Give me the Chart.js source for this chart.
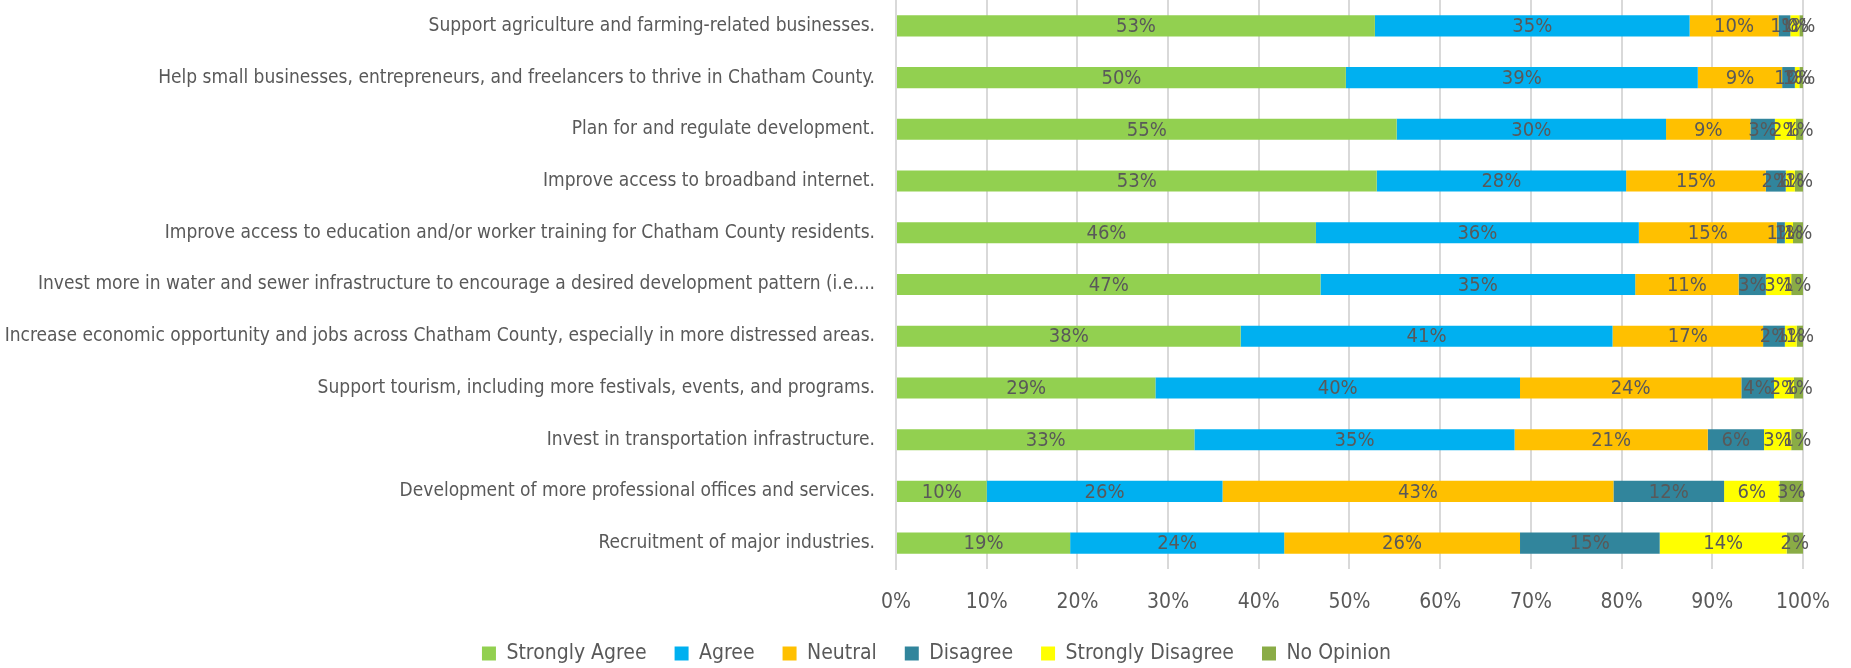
<!DOCTYPE html>
<html>
<head>
<meta charset="utf-8">
<script src="https://cdn.jsdelivr.net/npm/chart.js@4.4.1/dist/chart.umd.min.js"></script>
<style>
  html, body { margin: 0; padding: 0; background: #fff; }
  #wrap { width: 1851px; height: 668px; position: relative; }
</style>
</head>
<body>
<div id="wrap"><canvas id="myChart"></canvas></div>
<script>
/* globals Chart:false */

const priorities = [
    "Support agriculture and farming-related businesses.",
    "Help small businesses, entrepreneurs, and freelancers to thrive in Chatham County.",
    "Plan for and regulate development.",
    "Improve access to broadband internet.",
    "Improve access to education and/or worker training for Chatham County residents.",
    "Invest more in water and sewer infrastructure to encourage a desired development pattern (i.e....",
    "Increase economic opportunity and jobs across Chatham County, especially in more distressed areas.",
    "Support tourism, including more festivals, events, and programs.",
    "Invest in transportation infrastructure.",
    "Development of more professional offices and services.",
    "Recruitment of major industries."
];

// share of responses per answer, in percent
const stronglyAgree    = [52.8, 49.6, 55.2, 53.0, 46.3, 46.8, 38.0, 28.6, 32.9, 10.0, 19.2];
const agree            = [34.7, 38.8, 29.7, 27.5, 35.6, 34.7, 41.0, 40.2, 35.3, 26.0, 23.6];
const neutral          = [ 9.8,  9.3,  9.3, 15.4, 15.2, 11.4, 16.6, 24.4, 21.3, 43.1, 26.0];
const disagree         = [ 1.3,  1.4,  2.7,  2.2,  0.9,  3.0,  2.4,  3.6,  6.2, 12.2, 15.4];
const stronglyDisagree = [ 1.0,  0.5,  2.3,  1.0,  0.9,  2.8,  1.3,  2.2,  3.0,  6.1, 14.0];
const noOpinion        = [ 0.4,  0.4,  0.8,  0.9,  1.1,  1.3,  0.7,  1.0,  1.3,  2.6,  1.8];

const textColor = '#595959';
const fontFamily = "'Liberation Sans Narrow', 'Arial Narrow', 'DejaVu Sans Condensed', sans-serif";

// writes the rounded value in the middle of every segment
const segmentLabels = {
    id: 'segmentLabels',
    afterDatasetsDraw(chart) {
        const ctx = chart.ctx;
        ctx.save();
        ctx.font = '20px ' + fontFamily;
        ctx.fillStyle = textColor;
        ctx.textAlign = 'center';
        ctx.textBaseline = 'middle';
        chart.data.datasets.forEach((ds, i) => {
            chart.getDatasetMeta(i).data.forEach((bar, j) => {
                const p = bar.getProps(['x', 'y', 'base'], true);
                ctx.fillText(Math.round(ds.data[j]) + '%', (p.x + p.base) / 2, p.y + 1);
            });
        });
        ctx.restore();
    }
};

// nudge the legend row a bit to the right, under the bars
const legendShift = {
    id: 'legendShift',
    afterLayout(chart) {
        chart.legend.left += 25;
        chart.legend.right += 25;
    }
};

const ctx = document.getElementById('myChart');
const myChart = new Chart(ctx, {
    type: 'bar',
    data: {
        labels: priorities,
        datasets: [
            { label: 'Strongly Agree', data: stronglyAgree, backgroundColor: '#92d050' },
            { label: 'Agree', data: agree, backgroundColor: '#00b0f0' },
            { label: 'Neutral', data: neutral, backgroundColor: '#ffc000' },
            { label: 'Disagree', data: disagree, backgroundColor: '#31859c' },
            { label: 'Strongly Disagree', data: stronglyDisagree, backgroundColor: '#ffff00' },
            { label: 'No Opinion', data: noOpinion, backgroundColor: '#8aac46' }
        ]
    },
    options: {
        indexAxis: 'y',
        responsive: true,
        maintainAspectRatio: false,
        animation: false,
        categoryPercentage: 0.8,
        barPercentage: 0.51,
        layout: {
            padding: { left: 0, right: 28, top: 0, bottom: 0 }
        },
        scales: {
            x: {
                stacked: true,
                min: 0,
                max: 100,
                ticks: {
                    stepSize: 10,
                    padding: 21,
                    maxRotation: 0,
                    color: textColor,
                    font: { family: fontFamily, size: 21 },
                    callback: v => v + '%'
                },
                grid: { color: '#d9d9d9', lineWidth: 2, drawTicks: false },
                border: { display: false },
                afterFit: scale => { scale.height = 46; }
            },
            y: {
                stacked: true,
                ticks: {
                    padding: 21,
                    color: textColor,
                    font: { family: fontFamily, size: 19 }
                },
                grid: { display: false, drawTicks: false },
                border: { display: true, color: '#d9d9d9', width: 2 },
                afterFit: scale => {
                    scale.width = 896;
                    // labels sit beside the bars, no extra room above or below
                    scale.paddingTop = 0;
                    scale.paddingBottom = 0;
                }
            }
        },
        plugins: {
            legend: {
                position: 'bottom',
                maxHeight: 53,
                labels: {
                    boxWidth: 14,
                    boxHeight: 14,
                    padding: 28,
                    color: textColor,
                    font: { family: fontFamily, size: 21 }
                }
            },
            tooltip: { enabled: false }
        }
    },
    plugins: [segmentLabels, legendShift]
});
</script>
</body>
</html>
